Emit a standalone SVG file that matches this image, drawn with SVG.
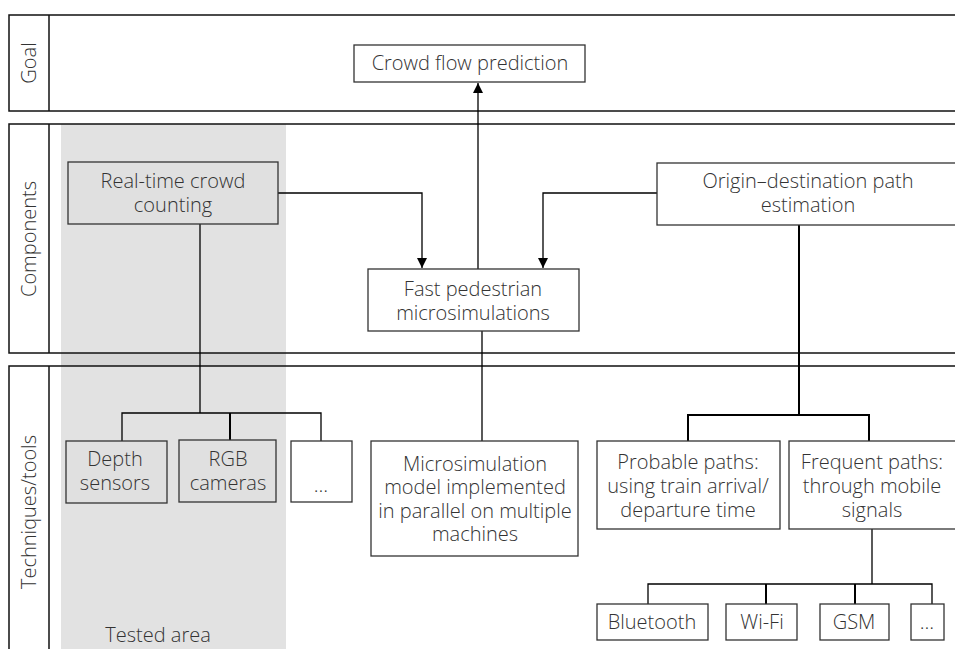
<svg xmlns="http://www.w3.org/2000/svg" width="955" height="649" viewBox="0 0 955 649">
<defs>
<style>
.t{font-family:"Open Sans","Noto Sans","Liberation Sans",sans-serif;font-size:20px;fill:#333;text-anchor:middle;font-weight:300}
.band{fill:none;stroke:#111;stroke-width:1.5}
.box{fill:#fff;stroke:#333;stroke-width:1.3}
.gbox{fill:#e0e0e0;stroke:#333;stroke-width:1.3}
.ln{fill:none;stroke:#000;stroke-width:1.3}
.lnb{fill:none;stroke:#000;stroke-width:2}
</style>
<marker id="ah" viewBox="0 0 10 10" refX="10" refY="5" markerWidth="10" markerHeight="10" markerUnits="userSpaceOnUse" orient="auto">
<path d="M0,0 L10,5 L0,10 z" fill="#000"/>
</marker>
</defs>
<rect width="955" height="649" fill="#fff"/>
<g id="tested-area">
<rect x="61" y="124" width="225" height="530" fill="#e2e2e2"/>
<rect x="61" y="353" width="225" height="13" fill="#d6d6d6"/>
<text class="t" x="158" y="642">Tested area</text>
</g>
<g id="band-goal">
<rect class="band" x="9" y="15" width="960" height="96"/>
<line class="band" x1="49" y1="15" x2="49" y2="111"/>
<text class="t" transform="translate(36,63) rotate(-90)">Goal</text>
</g>
<g id="band-components">
<rect class="band" x="9" y="124" width="960" height="229"/>
<line class="band" x1="49" y1="124" x2="49" y2="353"/>
<text class="t" transform="translate(36,239) rotate(-90)">Components</text>
</g>
<g id="band-techniques">
<rect class="band" x="9" y="366" width="960" height="300"/>
<line class="band" x1="49" y1="366" x2="49" y2="660"/>
<text class="t" transform="translate(36,512) rotate(-90)">Techniques/tools</text>
</g>
<g id="connectors">
<line class="ln" x1="478" y1="269" x2="478" y2="83" marker-end="url(#ah)"/>
<polyline class="ln" points="278,193 422,193 422,268" marker-end="url(#ah)"/>
<polyline class="ln" points="657,193 543,193 543,268" marker-end="url(#ah)"/>
<line class="ln" x1="482" y1="331" x2="482" y2="441"/>
<line class="ln" x1="200" y1="224" x2="200" y2="413"/>
<polyline class="ln" points="122,441 122,413 321,413 321,441"/>
<line class="lnb" x1="230" y1="413" x2="230" y2="440"/>
<line class="lnb" x1="799" y1="225" x2="799" y2="415"/>
<polyline class="lnb" points="688,441 688,415 869,415 869,441"/>
<line class="ln" x1="872" y1="529" x2="872" y2="584"/>
<polyline class="ln" points="648,604 648,584 932,584 932,604"/>
<line class="lnb" x1="766" y1="584" x2="766" y2="604"/>
<line class="lnb" x1="855" y1="584" x2="855" y2="604"/>
</g>
<g id="crowd-flow">
<rect class="box" x="354" y="45" width="231" height="37"/>
<text class="t" x="470" y="70">Crowd flow prediction</text>
</g>
<g id="realtime-counting">
<rect class="gbox" x="68" y="162" width="210" height="62"/>
<text class="t" x="173" y="188">Real-time crowd</text>
<text class="t" x="173" y="212">counting</text>
</g>
<g id="fast-ped">
<rect class="box" x="368" y="269" width="211" height="62"/>
<text class="t" x="473" y="296">Fast pedestrian</text>
<text class="t" x="473" y="320">microsimulations</text>
</g>
<g id="od-path">
<rect class="box" x="657" y="163" width="310" height="62"/>
<text class="t" x="808" y="188">Origin–destination path</text>
<text class="t" x="808" y="212">estimation</text>
</g>
<g id="depth">
<rect class="gbox" x="66" y="441" width="101" height="62"/>
<text class="t" x="115" y="466">Depth</text>
<text class="t" x="115" y="490">sensors</text>
</g>
<g id="rgb">
<rect class="gbox" x="179" y="440" width="97" height="62"/>
<text class="t" x="228" y="466">RGB</text>
<text class="t" x="228" y="490">cameras</text>
</g>
<g id="more-sensors">
<rect class="box" x="291" y="441" width="61" height="61"/>
<text class="t" x="321" y="492">…</text>
</g>
<g id="microsim-model">
<rect class="box" x="371" y="441" width="207" height="115"/>
<text class="t" x="475" y="471">Microsimulation</text>
<text class="t" x="475" y="494">model implemented</text>
<text class="t" x="475" y="518">in parallel on multiple</text>
<text class="t" x="475" y="541">machines</text>
</g>
<g id="probable-paths">
<rect class="box" x="597" y="441" width="183" height="88"/>
<text class="t" x="688" y="469">Probable paths:</text>
<text class="t" x="688" y="493">using train arrival/</text>
<text class="t" x="688" y="517">departure time</text>
</g>
<g id="frequent-paths">
<rect class="box" x="789" y="441" width="180" height="88"/>
<text class="t" x="872" y="469">Frequent paths:</text>
<text class="t" x="872" y="493">through mobile</text>
<text class="t" x="872" y="517">signals</text>
</g>
<g id="bluetooth">
<rect class="box" x="597" y="604" width="111" height="36"/>
<text class="t" x="652" y="629">Bluetooth</text>
</g>
<g id="wifi">
<rect class="box" x="726" y="604" width="71" height="36"/>
<text class="t" x="762" y="629">Wi-Fi</text>
</g>
<g id="gsm">
<rect class="box" x="820" y="604" width="69" height="36"/>
<text class="t" x="854" y="629">GSM</text>
</g>
<g id="more-signals">
<rect class="box" x="911" y="604" width="33" height="36"/>
<text class="t" x="927" y="629">…</text>
</g>
</svg>
